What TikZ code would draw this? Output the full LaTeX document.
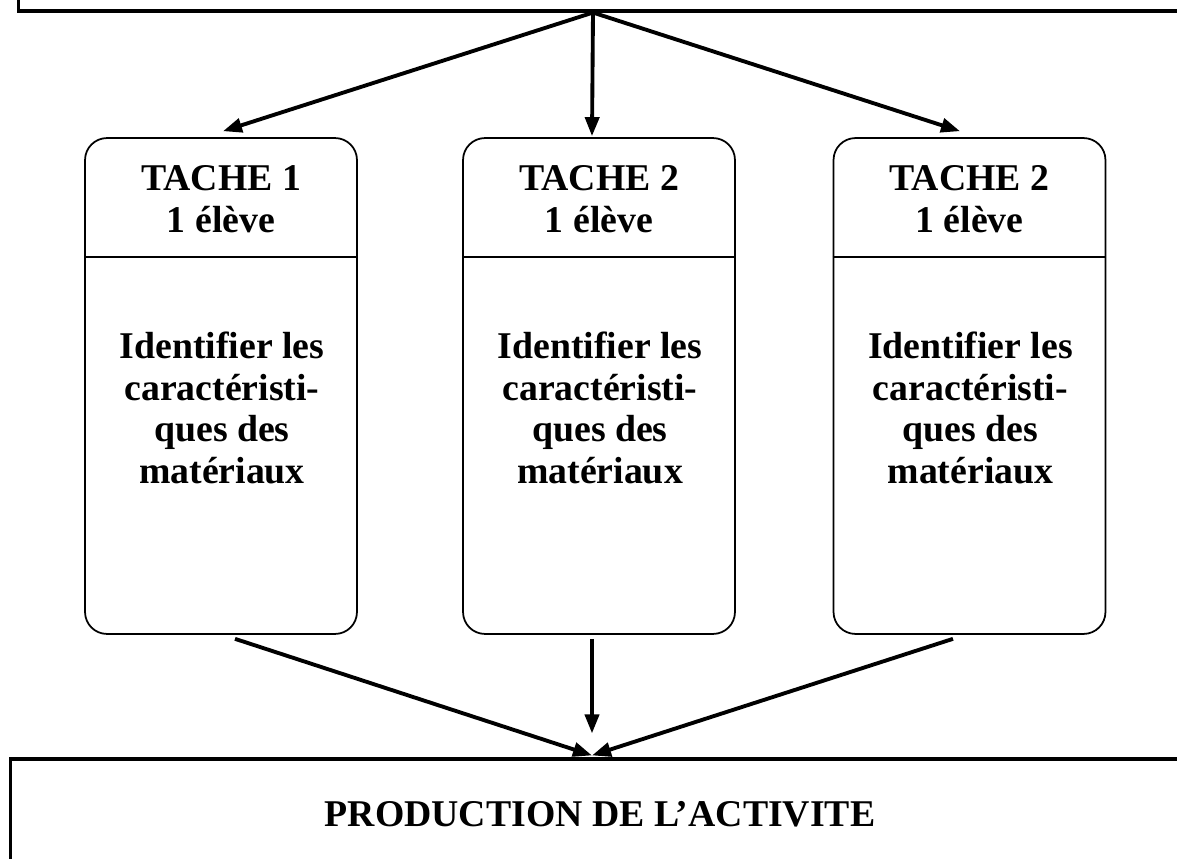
\documentclass[tikz,border=0pt]{standalone}
\usepackage{fontspec}
\setmainfont{Liberation Serif}
\usetikzlibrary{arrows.meta}

\begin{document}
\begin{tikzpicture}[x=0.02cm,y=-0.02cm,
    cadre/.style={draw,line width=1.8pt,inner sep=0pt},
    tache/.style={draw,line width=1pt,rounded corners=0.44cm,minimum width=5.44cm,minimum height=9.92cm,inner sep=0pt},
    txt/.style={font=\bfseries\fontsize{21.5}{23.8}\selectfont,align=center,inner sep=0pt},
    fleche/.style={line width=2.2pt,-{Triangle[length=0.38cm,width=0.28cm]}}]
    \useasboundingbox (0,0) rectangle (1177,859);
    % top and bottom frames (cut by the page)
    \node[cadre,minimum width=23.64cm,minimum height=2.22cm] (Top) at (609,-44.5) {};
    \node[cadre,minimum width=23.8cm,minimum height=2.82cm] (Prod) at (605,829.5) {};
    \node[txt] (ProdTxt) at (600,814.5) {PRODUCTION DE L’ACTIVITE};
    % the three tasks
    \node[tache] (T1) at (221,386) {};
    \node[tache] (T2) at (599,386) {};
    \node[tache] (T3) at (969.5,386) {};
    \node[txt] (H1) at (221,199) {TACHE 1\\1 élève};
    \node[txt] (H2) at (599,199) {TACHE 2\\1 élève};
    \node[txt] (H3) at (969.5,199) {TACHE 2\\1 élève};
    \node[txt] (B1) at (222,408) {Identifier les\\caractéristi-\\ques des\\matériaux};
    \node[txt] (B2) at (600,408) {Identifier les\\caractéristi-\\ques des\\matériaux};
    \node[txt] (B3) at (970.5,408) {Identifier les\\caractéristi-\\ques des\\matériaux};
    \draw[line width=1.2pt] (T1.west |- 0,257) -- (T1.east |- 0,257);
    \draw[line width=1.2pt] (T2.west |- 0,257) -- (T2.east |- 0,257);
    \draw[line width=1.2pt] (T3.west |- 0,257) -- (T3.east |- 0,257);
    % arrows
    \draw[fleche] ([shift={(-16,0)}]Top.south) -- ([shift={(2,-6)}]T1.north);
    \draw[fleche] ([shift={(-16,0)}]Top.south) -- ([shift={(-7,-1)}]T2.north);
    \draw[fleche] ([shift={(-16,0)}]Top.south) -- ([shift={(-9.5,-6)}]T3.north);
    \draw[fleche] ([shift={(14,4)}]T1.south) -- ([shift={(-13,-2)}]Prod.north);
    \draw[fleche] ([shift={(-7,4)}]T2.south) -- ([shift={(-13,-24)}]Prod.north);
    \draw[fleche] ([shift={(-16.5,4)}]T3.south) -- ([shift={(-13,-2)}]Prod.north);
\end{tikzpicture}
\end{document}
